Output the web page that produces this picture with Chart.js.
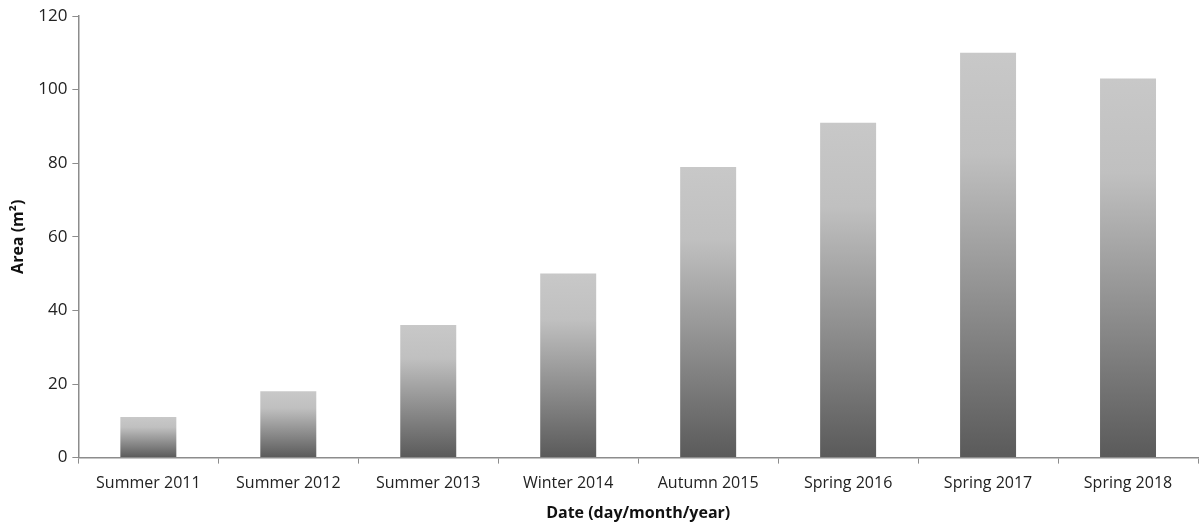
<!DOCTYPE html>
<html>
<head>
<meta charset="utf-8">
<script src="https://cdn.jsdelivr.net/npm/chart.js@4"></script>
<style>
  html, body { margin: 0; padding: 0; background: #fff; }
  #wrap { width: 1200px; height: 529px; }
</style>
</head>
<body>
<div id="wrap"><canvas id="areaChart"></canvas></div>
<script>
const categories = ['Summer 2011', 'Summer 2012', 'Summer 2013', 'Winter 2014',
                    'Autumn 2015', 'Spring 2016', 'Spring 2017', 'Spring 2018'];
const areaValues = [11, 18, 36, 50, 79, 91, 110, 103];
const yTicks = [0, 20, 40, 60, 80, 100, 120];

const fontFamily = "'Open Sans', 'Liberation Sans', sans-serif";
const axisGrey = '#8c8c8c';

// each bar gets its own gradient, light at the top, dark at the base
function barGradient(context) {
  const chart = context.chart;
  const yScale = chart.scales.y;
  if (!yScale || context.type !== 'data') return '#999';
  const top = yScale.getPixelForValue(context.raw);
  const base = yScale.getPixelForValue(0);
  if (!isFinite(top) || !isFinite(base) || top === base) return '#999';
  const g = chart.ctx.createLinearGradient(0, top, 0, base);
  g.addColorStop(0, '#c8c8c8');
  g.addColorStop(0.25, '#c0c0c0');
  g.addColorStop(1, '#5a5a5a');
  return g;
}

new Chart(document.getElementById('areaChart'), {
  type: 'bar',
  data: {
    labels: categories,
    datasets: [{
      label: 'Area',
      data: areaValues,
      backgroundColor: barGradient,
      borderWidth: 0,
      barPercentage: 0.4,
      categoryPercentage: 1
    }]
  },
  options: {
    responsive: true,
    maintainAspectRatio: false,
    animation: false,
    layout: { padding: { left: 9, right: 2, top: 16, bottom: 6 } },
    plugins: {
      legend: { display: false },
      tooltip: { enabled: false }
    },
    scales: {
      x: {
        grid: {
          display: true,
          drawOnChartArea: false,
          drawTicks: true,
          tickLength: 6,
          color: axisGrey,
          offset: true
        },
        border: { color: axisGrey, width: 1.5 },
        ticks: {
          color: '#222',
          font: { family: fontFamily, size: 16 },
          maxRotation: 0,
          padding: 10
        },
        title: {
          display: true,
          text: 'Date (day/month/year)',
          color: '#111',
          font: { family: fontFamily, size: 16, weight: 'bold' },
          padding: { top: 1, bottom: 0 }
        }
      },
      y: {
        min: 0,
        max: 120,
        afterBuildTicks: (axis) => {
          axis.ticks = yTicks.map(v => ({ value: v }));
        },
        grid: {
          display: true,
          drawOnChartArea: false,
          drawTicks: true,
          tickLength: 6,
          color: axisGrey
        },
        border: { color: axisGrey, width: 1.5 },
        ticks: {
          color: '#222',
          font: { family: fontFamily, size: 17 },
          padding: 5
        },
        title: {
          display: true,
          text: 'Area (m²)',
          color: '#111',
          font: { family: fontFamily, size: 16, weight: 'bold' },
          padding: { top: 0, bottom: 5 }
        }
      }
    }
  }
});
</script>
</body>
</html>
